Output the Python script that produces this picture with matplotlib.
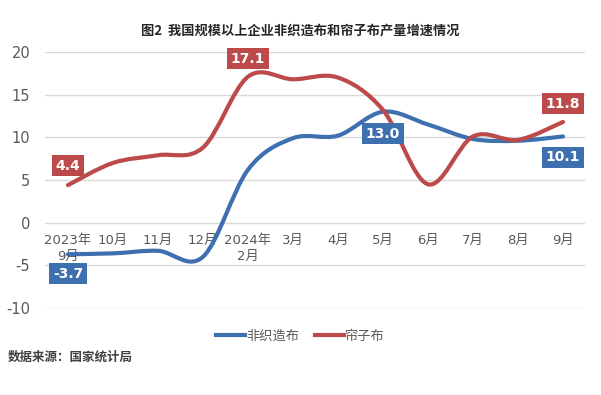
import numpy as np
import matplotlib
matplotlib.use("Agg")
import matplotlib.pyplot as plt
from matplotlib.path import Path
from matplotlib.patches import PathPatch
from matplotlib.lines import Line2D

plt.rcParams['font.family'] = ['DejaVu Sans', 'Noto Sans CJK SC']
plt.rcParams['axes.unicode_minus'] = False

# 数据
months = ["2023年\n9月", "10月", "11月", "12月", "2024年\n2月", "3月",
          "4月", "5月", "6月", "7月", "8月", "9月"]
nonwoven = [-3.7, -3.6, -3.3, -4.0, 6.2, 9.9, 10.2, 13.0, 11.5, 9.8, 9.6, 10.1]
cord = [4.4, 7.0, 7.9, 8.8, 17.1, 16.8, 17.0, 13.2, 4.5, 10.1, 9.7, 11.8]
names = ["非织造布", "帘子布"]

blue = "#3E70B0"
red = "#BC4A4B"
gray = "#595959"


def smooth_path(xs, ys):
    # Excel 风格平滑线：三次贝塞尔
    pts = np.column_stack([xs, ys]).astype(float)
    n = len(pts)
    verts = [pts[0]]
    codes = [Path.MOVETO]
    for i in range(n - 1):
        p0 = pts[max(i - 1, 0)]
        p1 = pts[i]
        p2 = pts[i + 1]
        p3 = pts[min(i + 2, n - 1)]
        c1 = p1 + (p2 - p0) / 6
        c2 = p2 - (p3 - p1) / 6
        verts += [c1, c2, p2]
        codes += [Path.CURVE4] * 3
    return Path(verts, codes)


fig = plt.figure(figsize=(6.01, 3.95), dpi=100)
ax = fig.add_axes([0.0757, 0.2203, 0.8985, 0.6481])

x = np.arange(len(months))
for vals, c in [(nonwoven, blue), (cord, red)]:
    ax.add_patch(PathPatch(smooth_path(x, vals), fill=False, edgecolor=c,
                           lw=3, capstyle='round', joinstyle='round', zorder=3))

ax.set_xlim(-0.5, len(months) - 0.5)
ax.set_ylim(-10, 20)
ax.set_yticks(range(-10, 21, 5))
ax.grid(axis='y', color='#D9D9D9', lw=1)
ax.set_axisbelow(True)
for s in ['top', 'right', 'left']:
    ax.spines[s].set_visible(False)
ax.spines['bottom'].set_position(('data', 0))
ax.spines['bottom'].set_visible(False)
ax.set_xticks(x)
ax.set_xticklabels(months, fontsize=9.5, color=gray, linespacing=1.35)
ax.tick_params(axis='x', length=0, pad=8)
ax.tick_params(axis='y', length=0, pad=11, labelsize=10.5, labelcolor=gray)

# 数据标签
def tag(i, vals, c, dy):
    ax.annotate(f"{vals[i]:.1f}", (x[i], vals[i]), xytext=(0, dy),
                textcoords='offset points', ha='center', va='center',
                color='white', fontsize=10, fontweight='bold', zorder=5,
                bbox=dict(boxstyle='square,pad=0.25', fc=c, ec='none'))

tag(0, cord, red, 14)
tag(4, cord, red, 13)
tag(11, cord, red, 13)
tag(0, nonwoven, blue, -14)
tag(7, nonwoven, blue, -16)
tag(11, nonwoven, blue, -15)

handles = [Line2D([], [], color=blue, lw=3), Line2D([], [], color=red, lw=3)]
fig.legend(handles, names, loc='center', bbox_to_anchor=(0.5, 0.148), ncol=2,
           frameon=False, fontsize=9.5, labelcolor=gray, handlelength=2.2,
           handletextpad=0.1, columnspacing=1.2)

fig.text(0.5, 0.924, "图2  我国规模以上企业非织造布和帘子布产量增速情况",
         ha='center', va='center', fontsize=9.5, fontweight='bold',
         color='#262626', family=['Noto Sans CJK SC'])
fig.text(0.013, 0.096, "数据来源：国家统计局", ha='left', va='center',
         fontsize=9, fontweight='bold', color='#404040',
         family=['Noto Sans CJK SC'])

fig.savefig("out.png", dpi=100, facecolor='white')
